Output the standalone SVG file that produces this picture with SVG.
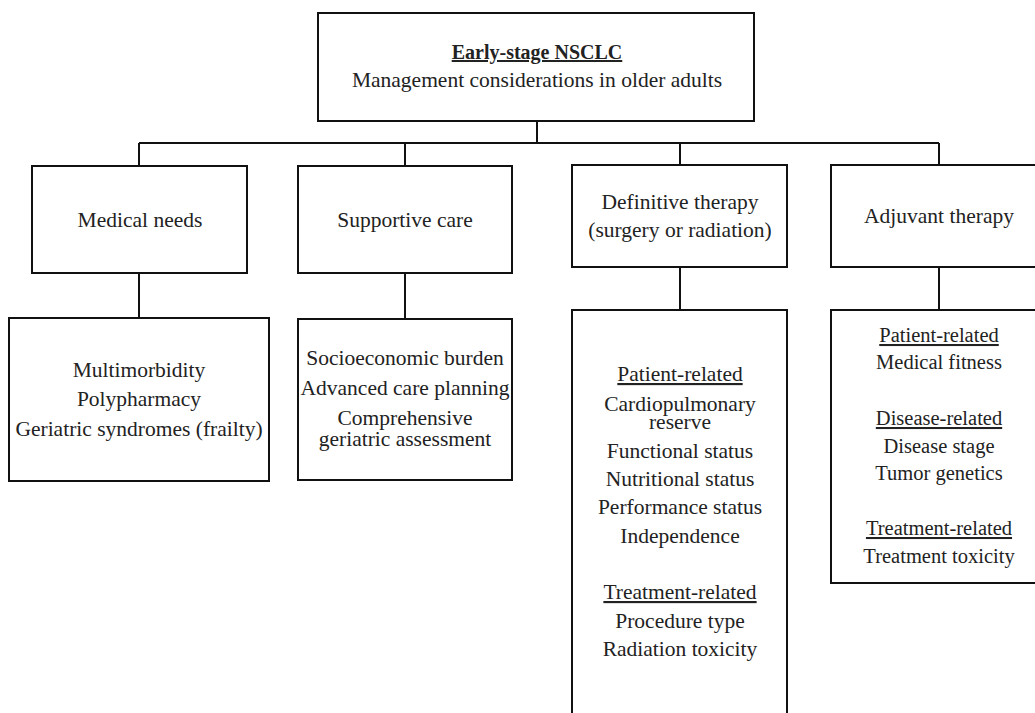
<svg xmlns="http://www.w3.org/2000/svg" width="1035" height="713" viewBox="0 0 1035 713">
<style>
  .box { fill: #ffffff; stroke: #111111; stroke-width: 2; }
  .conn { fill: none; stroke: #111111; stroke-width: 2; }
  text { font-family: "Liberation Serif", "Times New Roman", serif; fill: #222222; text-anchor: middle; font-size: 21.5px; }
  .title { font-weight: bold; font-size: 20px; text-decoration: underline; }
  .u { text-decoration: underline; }
  .sm { font-size: 20.5px; }
</style>
<rect width="1035" height="713" fill="#ffffff"/>
<g id="connectors">
  <path class="conn" d="M537 121 V143 M139 143 H939 M139 143 V166 M405 143 V166 M680 143 V165 M939 143 V165"/>
  <path class="conn" d="M139 273 V318 M405 273 V319 M680 267 V310 M939 267 V310"/>
</g>
<g id="root">
  <rect class="box" x="318" y="13" width="436" height="108"/>
  <text class="title" x="537" y="59">Early-stage NSCLC</text>
  <text x="537" y="87">Management considerations in older adults</text>
</g>
<g id="medical-needs">
  <rect class="box" x="32" y="166" width="215" height="107"/>
  <text x="140" y="227">Medical needs</text>
</g>
<g id="supportive-care">
  <rect class="box" x="298" y="166" width="214" height="107"/>
  <text x="405" y="227">Supportive care</text>
</g>
<g id="definitive-therapy">
  <rect class="box" x="572" y="165" width="215" height="102"/>
  <text x="680" y="209">Definitive therapy</text>
  <text x="680" y="237">(surgery or radiation)</text>
</g>
<g id="adjuvant-therapy">
  <rect class="box" x="831" y="165" width="216" height="102"/>
  <text x="939" y="223">Adjuvant therapy</text>
</g>
<g id="medical-details">
  <rect class="box" x="9" y="318" width="260" height="163"/>
  <text x="139" y="377">Multimorbidity</text>
  <text x="139" y="406">Polypharmacy</text>
  <text x="139" y="436">Geriatric syndromes (frailty)</text>
</g>
<g id="supportive-details">
  <rect class="box" x="298" y="319" width="214" height="161"/>
  <text x="405" y="365">Socioeconomic burden</text>
  <text x="405" y="395">Advanced care planning</text>
  <text x="405" y="425">Comprehensive</text>
  <text x="405" y="446">geriatric assessment</text>
</g>
<g id="definitive-details">
  <rect class="box" x="572" y="310" width="215" height="420"/>
  <text class="u" x="680" y="381">Patient-related</text>
  <text x="680" y="411">Cardiopulmonary</text>
  <text x="680" y="429">reserve</text>
  <text x="680" y="458">Functional status</text>
  <text x="680" y="486">Nutritional status</text>
  <text x="680" y="514">Performance status</text>
  <text x="680" y="543">Independence</text>
  <text class="u" x="680" y="599">Treatment-related</text>
  <text x="680" y="628">Procedure type</text>
  <text x="680" y="656">Radiation toxicity</text>
</g>
<g id="adjuvant-details">
  <rect class="box" x="831" y="310" width="216" height="273"/>
  <text class="u sm" x="939" y="342">Patient-related</text>
  <text class="sm" x="939" y="369">Medical fitness</text>
  <text class="u sm" x="939" y="425">Disease-related</text>
  <text class="sm" x="939" y="453">Disease stage</text>
  <text class="sm" x="939" y="480">Tumor genetics</text>
  <text class="u sm" x="939" y="535">Treatment-related</text>
  <text class="sm" x="939" y="563">Treatment toxicity</text>
</g>
</svg>
